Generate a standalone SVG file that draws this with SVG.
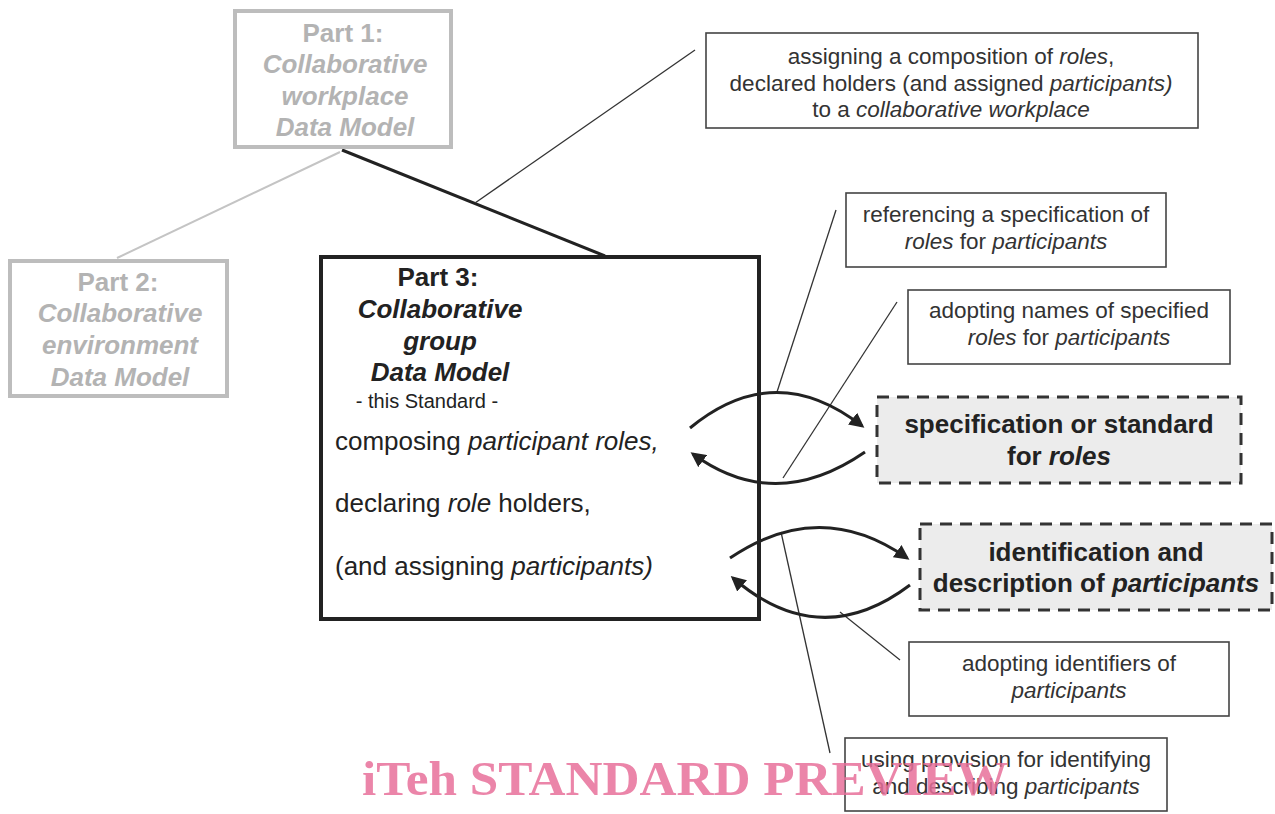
<svg xmlns="http://www.w3.org/2000/svg" width="1275" height="814" viewBox="0 0 1275 814">
<defs>
<style>
text{font-family:"Liberation Sans",Arial,sans-serif;fill:#222}
.gray{fill:#b3b3b3;font-weight:bold;font-size:26px}
.t3{font-weight:bold;font-size:26px}
.big{font-size:26px}
.note{font-size:22.5px;fill:#333}
.spec{font-weight:bold;font-size:26px}
.box{fill:#fff;stroke:#444;stroke-width:1.6}
.dbox{fill:#ececec;stroke:#333;stroke-width:3;stroke-dasharray:12 8}
.call{stroke:#333;stroke-width:1.3;fill:none}
.arc{stroke:#222;stroke-width:3;fill:none}
</style>
<marker id="ah" viewBox="0 0 10 10" refX="8" refY="5" markerWidth="5" markerHeight="5" orient="auto" markerUnits="strokeWidth">
<path d="M0,0 L10,5 L0,10 z" fill="#222"/>
</marker>
</defs>
<rect width="1275" height="814" fill="#fff"/>

<g id="connectors">
<line x1="340" y1="152" x2="117" y2="258" stroke="#c4c4c4" stroke-width="2"/>
<line x1="342" y1="150" x2="605" y2="256" stroke="#222" stroke-width="3"/>
<line class="call" x1="695" y1="50" x2="475" y2="203"/>
<line class="call" x1="836" y1="210" x2="777" y2="392"/>
<line class="call" x1="897" y1="302" x2="783" y2="478"/>
<line class="call" x1="900" y1="660" x2="840" y2="612"/>
<line class="call" x1="830" y1="753" x2="781" y2="532"/>
</g>

<g id="part1">
<rect x="235" y="11" width="216" height="136" fill="#fff" stroke="#bdbdbd" stroke-width="4"/>
<text class="gray" x="343" y="42" text-anchor="middle">Part 1:</text>
<text class="gray" x="345" y="73" text-anchor="middle" font-style="italic">Collaborative</text>
<text class="gray" x="345" y="105" text-anchor="middle" font-style="italic">workplace</text>
<text class="gray" x="345" y="136" text-anchor="middle" font-style="italic">Data Model</text>
</g>

<g id="part2">
<rect x="10" y="261" width="217" height="135" fill="#fff" stroke="#bdbdbd" stroke-width="4"/>
<text class="gray" x="118" y="291" text-anchor="middle">Part 2:</text>
<text class="gray" x="120" y="322" text-anchor="middle" font-style="italic">Collaborative</text>
<text class="gray" x="120" y="354" text-anchor="middle" font-style="italic">environment</text>
<text class="gray" x="120" y="386" text-anchor="middle" font-style="italic">Data Model</text>
</g>

<g id="part3">
<rect x="321" y="257" width="438" height="362" fill="none" stroke="#222" stroke-width="4"/>
<text class="t3" x="438" y="286" text-anchor="middle">Part 3:</text>
<text class="t3" x="440" y="318" text-anchor="middle" font-style="italic">Collaborative</text>
<text class="t3" x="440" y="350" text-anchor="middle" font-style="italic">group</text>
<text class="t3" x="440" y="381" text-anchor="middle" font-style="italic">Data Model</text>
<text x="427" y="408" text-anchor="middle" font-size="20">- this Standard -</text>
<text class="big" x="335" y="450">composing <tspan font-style="italic">participant roles,</tspan></text>
<text class="big" x="335" y="512">declaring <tspan font-style="italic">role</tspan> holders,</text>
<text class="big" x="335" y="575">(and assigning <tspan font-style="italic">participants)</tspan></text>
</g>

<g id="arcs">
<path class="arc" d="M690,428 Q775,358 862,426" marker-end="url(#ah)"/>
<path class="arc" d="M865,452 Q775,514 693,454" marker-end="url(#ah)"/>
<path class="arc" d="M730,558 Q820,497 907,558" marker-end="url(#ah)"/>
<path class="arc" d="M910,585 Q820,653 733,578" marker-end="url(#ah)"/>
</g>

<g id="note-workplace">
<rect class="box" x="706" y="33" width="492" height="95"/>
<text class="note" x="951" y="64" text-anchor="middle">assigning a composition of <tspan font-style="italic">roles</tspan>,</text>
<text class="note" x="951" y="91" text-anchor="middle">declared holders (and assigned <tspan font-style="italic">participants)</tspan></text>
<text class="note" x="951" y="117" text-anchor="middle">to a <tspan font-style="italic">collaborative workplace</tspan></text>
</g>

<g id="note-referencing">
<rect class="box" x="846" y="193" width="320" height="74"/>
<text class="note" x="1006" y="222" text-anchor="middle">referencing a specification of</text>
<text class="note" x="1006" y="249" text-anchor="middle"><tspan font-style="italic">roles</tspan> for <tspan font-style="italic">participants</tspan></text>
</g>

<g id="note-adopting-names">
<rect class="box" x="908" y="290" width="322" height="74"/>
<text class="note" x="1069" y="318" text-anchor="middle">adopting names of specified</text>
<text class="note" x="1069" y="345" text-anchor="middle"><tspan font-style="italic">roles</tspan> for <tspan font-style="italic">participants</tspan></text>
</g>

<g id="spec-roles">
<rect class="dbox" x="877" y="397" width="364" height="86"/>
<text class="spec" x="1059" y="433" text-anchor="middle">specification or standard</text>
<text class="spec" x="1059" y="465" text-anchor="middle">for <tspan font-style="italic">roles</tspan></text>
</g>

<g id="ident-participants">
<rect class="dbox" x="920" y="524" width="352" height="86"/>
<text class="spec" x="1096" y="561" text-anchor="middle">identification and</text>
<text class="spec" x="1096" y="592" text-anchor="middle">description of <tspan font-style="italic">participants</tspan></text>
</g>

<g id="note-identifiers">
<rect class="box" x="909" y="642" width="320" height="74"/>
<text class="note" x="1069" y="671" text-anchor="middle">adopting identifiers of</text>
<text class="note" x="1069" y="698" text-anchor="middle" font-style="italic">participants</text>
</g>

<g id="note-provision">
<rect class="box" x="845" y="738" width="322" height="73"/>
<text class="note" x="1006" y="767" text-anchor="middle">using provision for identifying</text>
<text class="note" x="1006" y="794" text-anchor="middle">and describing <tspan font-style="italic">participants</tspan></text>
</g>

<g id="watermark">
<text x="362" y="795" textLength="646" lengthAdjust="spacingAndGlyphs" style="font-family:'Liberation Serif','Times New Roman',serif;font-weight:bold;font-size:48px;fill:#e8709a;fill-opacity:0.85">iTeh STANDARD PREVIEW</text>
</g>
</svg>
